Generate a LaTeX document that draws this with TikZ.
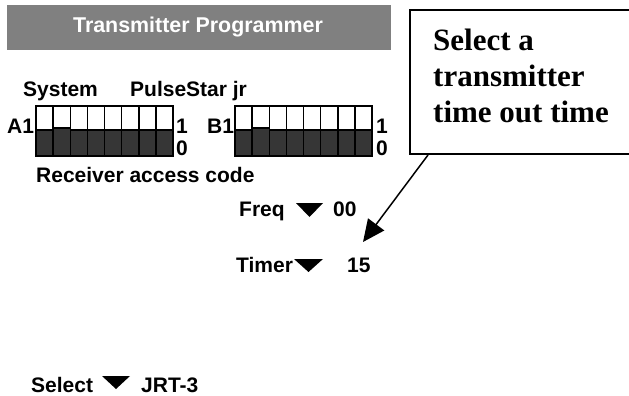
\documentclass[tikz,border=0pt]{standalone}
\usepackage{fontspec}
\setmainfont{Liberation Sans}
\newfontfamily\calloutfont{Liberation Serif}
\usepackage{xcolor}
\usetikzlibrary{arrows.meta}

\definecolor{bargray}{HTML}{808080}
\definecolor{dipdark}{HTML}{363636}

\tikzset{
	lbl/.style={anchor=base west, inner sep=0pt, font=\fontsize{21}{24}\selectfont\bfseries},
	dipcell/.style={draw=black, line width=1.5pt},
	menutri/.style={fill=black},
}

\begin{document}
\begin{tikzpicture}[x=1pt, y=-1pt]
	\useasboundingbox (0,0) rectangle (629,396);

	% title bar
	\fill[bargray] (7,5) rectangle (391,50);
	\node[lbl, anchor=base, font=\fontsize{21.4}{24}\selectfont\bfseries, text=white] (title) at (198,33) {Transmitter Programmer};

	\node[lbl] (system) at (23,96) {System};
	\node[lbl] (pulsestar) at (130,96) {PulseStar jr};

	% dip switches
	\foreach \s in {36,235} {
		\foreach \i/\t in {0/130,1/128,2/130,3/130,4/130,5/130,6/130,7/130} {
			\draw[dipcell, fill=white] (\s+\i*17.125,106) rectangle (\s+\i*17.125+17.125,\t);
			\draw[dipcell, fill=dipdark] (\s+\i*17.125,\t) rectangle (\s+\i*17.125+17.125,156);
		};
	};

	\node[lbl] (aone) at (7,133) {A1};
	\node[lbl] (aonhi) at (176,133) {1};
	\node[lbl] (aonlo) at (176,155) {0};
	\node[lbl] (bone) at (207,133) {B1};
	\node[lbl] (bonhi) at (376,133) {1};
	\node[lbl] (bonlo) at (376,155) {0};

	\node[lbl] (access) at (36,182) {Receiver access code};

	% menu lines
	\node[lbl] (freq) at (239,216) {Freq};
	\fill[menutri] (296,203) -- (323,203) -- (309.5,217) -- cycle;
	\node[lbl] (freqval) at (333,216) {00};

	\node[lbl] (timer) at (236,272) {Timer};
	\fill[menutri] (294,259) -- (323,259) -- (308.5,272) -- cycle;
	\node[lbl] (timerval) at (347,272) {15};

	\node[lbl] (select) at (31,392) {Select};
	\fill[menutri] (102,376) -- (130,376) -- (116,389) -- cycle;
	\node[lbl] (selectval) at (141,392) {JRT-3};

	% callout
	\node[draw, line width=2pt, minimum width=222pt, minimum height=144pt, anchor=north west, inner sep=0pt] (callout) at (409,9) {};
	\node[anchor=north west, align=left, inner sep=0pt, font=\calloutfont\fontsize{31}{36}\selectfont\bfseries] (calltext) at (433,29) {Select a\\transmitter\\time out time};

	\coordinate (tip) at (363,242);
	\draw[line width=1.5pt, -{Triangle[length=22pt, width=20pt]}] ([xshift=19pt]callout.south west) -- (tip);
\end{tikzpicture}
\end{document}
